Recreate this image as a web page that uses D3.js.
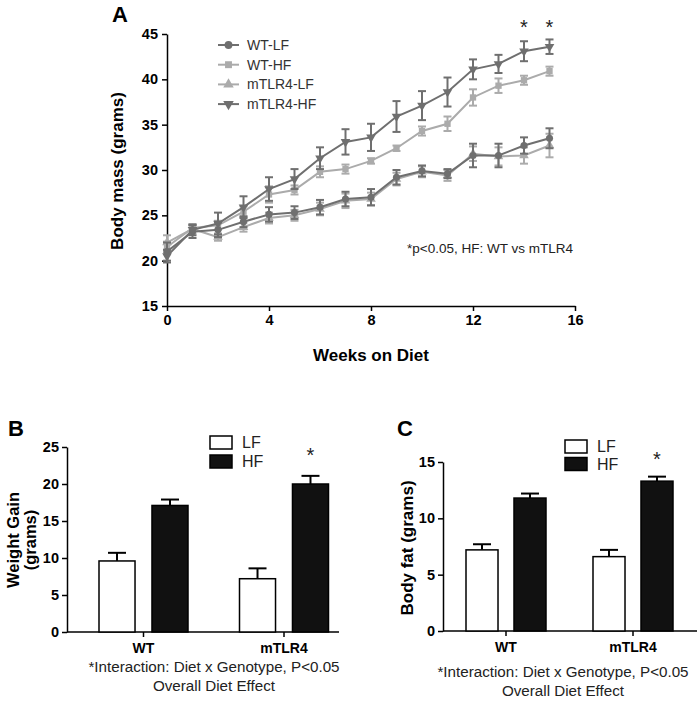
<!DOCTYPE html>
<html><head><meta charset="utf-8">
<script src="https://cdn.jsdelivr.net/npm/d3@7"></script>
<style>
body{margin:0;background:#fff;}
svg{display:block;font-family:"Liberation Sans",Arial,sans-serif;}
</style></head>
<body>
<svg id="chart" width="697" height="701"></svg>
<script>
// ---------- Panel A data ----------
const weeks = [0,1,2,3,4,5,6,7,8,9,10,11,12,13,14,15];
const wtLF   = [21.0,23.2,23.4,24.3,25.1,25.3,25.9,26.8,27.0,29.2,29.9,29.6,31.6,31.6,32.7,33.5];
const wtLFe  = [1.0,0.7,0.8,0.6,0.8,0.7,0.8,0.8,0.9,0.8,0.6,0.5,1.3,1.3,0.9,1.1];
const wtHF   = [21.5,23.6,23.9,25.4,27.3,27.8,29.8,30.1,31.0,32.4,34.3,35.1,38.0,39.3,39.9,40.9];
const wtHFe  = [0.6,0.3,0.5,0.6,0.9,0.5,0.6,0.5,0.3,0.3,0.5,0.8,0.9,0.8,0.5,0.5];
const tlrLF  = [22.0,23.5,22.6,23.7,24.7,25.0,25.7,26.6,26.8,29.0,29.8,29.4,31.8,31.5,31.6,32.7];
const tlrLFe = [0.8,0.5,0.4,0.5,0.6,0.6,0.7,0.8,0.7,0.7,0.6,0.6,0.8,1.0,0.9,1.3];
const tlrHF  = [20.5,23.4,24.1,25.9,27.9,29.0,31.3,33.1,33.6,35.9,37.1,38.6,41.1,41.7,43.1,43.6];
const tlrHFe = [0.7,0.6,1.2,1.2,1.3,1.1,1.2,1.4,1.5,1.7,1.6,1.6,1.1,1.0,1.1,0.8];
const seriesNames = ["WT-LF","WT-HF","mTLR4-LF","mTLR4-HF"];
const xTicksA = [0,4,8,12,16];
const yTicksA = [15,20,25,30,35,40,45];
const starWeeks = [14,15];

// ---------- Panel B/C data ----------
const genotypes = ["WT","mTLR4"];
const diets = ["LF","HF"];
const gainLF = [9.6,7.2], gainLFe = [1.1,1.4];
const gainHF = [17.1,20.0], gainHFe = [0.8,1.1];
const fatLF = [7.2,6.6], fatLFe = [0.5,0.6];
const fatHF = [11.8,13.3], fatHFe = [0.4,0.4];
const yTicksB = [0,5,10,15,20,25];
const yTicksC = [0,5,10,15];

const svg = d3.select("#chart");
const dark = "#6f6f6f", light = "#ababab";

// ================= Panel A =================
const xA = d3.scaleLinear().domain([0,16]).range([167,575]);
const yA = d3.scaleLinear().domain([15,45]).range([306,34]);

const gA = svg.append("g");
gA.append("g").attr("transform","translate(0,306)")
  .call(d3.axisBottom(xA).tickValues(xTicksA).tickSize(5).tickSizeOuter(0).tickPadding(4))
  .call(g=>{g.select(".domain").attr("stroke","#000").attr("stroke-width",1.5);
    g.selectAll(".tick line").attr("stroke","#000").attr("stroke-width",1.5);
    g.selectAll("text").attr("font-size",14.5).attr("font-weight","bold").attr("fill","#000").attr("font-family","Liberation Sans, Arial");});
gA.append("g").attr("transform","translate(167,0)")
  .call(d3.axisLeft(yA).tickValues(yTicksA).tickSize(5).tickSizeOuter(0).tickPadding(4))
  .call(g=>{g.select(".domain").attr("stroke","#000").attr("stroke-width",1.5);
    g.selectAll(".tick line").attr("stroke","#000").attr("stroke-width",1.5);
    g.selectAll("text").attr("font-size",14.5).attr("font-weight","bold").attr("fill","#000").attr("font-family","Liberation Sans, Arial");});

gA.append("text").attr("x",112).attr("y",22).attr("font-size",22).attr("font-weight","bold").text("A");
gA.append("text").attr("transform","translate(123,171) rotate(-90)").attr("text-anchor","middle")
  .attr("font-size",17).attr("font-weight","bold").text("Body mass (grams)");
gA.append("text").attr("x",371).attr("y",361).attr("text-anchor","middle")
  .attr("font-size",17).attr("font-weight","bold").text("Weeks on Diet");
gA.append("text").attr("x",490).attr("y",253).attr("text-anchor","middle")
  .attr("font-size",13.5).attr("fill","#222").text("*p<0.05, HF: WT vs mTLR4");

const series = [
  {name:seriesNames[0], v:wtLF, e:wtLFe, color:dark, sym:d3.symbolCircle, rot:0},
  {name:seriesNames[1], v:wtHF, e:wtHFe, color:light, sym:d3.symbolSquare, rot:0},
  {name:seriesNames[2], v:tlrLF, e:tlrLFe, color:light, sym:d3.symbolTriangle, rot:0},
  {name:seriesNames[3], v:tlrHF, e:tlrHFe, color:dark, sym:d3.symbolTriangle, rot:180}
];
const drawOrder = [1,2,0,3];
const line = d3.line().x((d,i)=>xA(weeks[i])).y(d=>yA(d));
drawOrder.forEach(si=>{
  const s = series[si];
  const g = gA.append("g");
  g.append("path").datum(s.v).attr("d",line).attr("fill","none").attr("stroke",s.color).attr("stroke-width",2);
  s.v.forEach((v,i)=>{
    const x = xA(weeks[i]), y1 = yA(v + s.e[i]), y0 = yA(v - s.e[i]);
    g.append("line").attr("x1",x).attr("x2",x).attr("y1",y1).attr("y2",y0).attr("stroke",s.color).attr("stroke-width",2);
    g.append("line").attr("x1",x-4).attr("x2",x+4).attr("y1",y1).attr("y2",y1).attr("stroke",s.color).attr("stroke-width",2);
    g.append("line").attr("x1",x-4).attr("x2",x+4).attr("y1",y0).attr("y2",y0).attr("stroke",s.color).attr("stroke-width",2);
    g.append("path").attr("d",d3.symbol().type(s.sym).size(40)())
      .attr("transform",`translate(${x},${yA(v)}) rotate(${s.rot})`).attr("fill",s.color);
  });
});
starWeeks.forEach(w=>{
  gA.append("text").attr("x",xA(w)).attr("y",34).attr("text-anchor","middle")
    .attr("font-size",20).attr("fill","#222").text("*");
});
// legend A
series.forEach((s,i)=>{
  const y = 45 + i*19.7;
  gA.append("line").attr("x1",218).attr("x2",239).attr("y1",y).attr("y2",y).attr("stroke",s.color).attr("stroke-width",2);
  gA.append("path").attr("d",d3.symbol().type(s.sym).size(48)())
    .attr("transform",`translate(228.5,${y}) rotate(${s.rot})`).attr("fill",s.color);
  gA.append("text").attr("x",247).attr("y",y+5).attr("font-size",14).attr("fill","#333").text(s.name);
});

// ================= Bar panels =================
function barPanel(opt){
  const g = svg.append("g");
  const y = d3.scaleLinear().domain(opt.domain).range(opt.yRange);
  const x = d3.scalePoint().domain(genotypes).range(opt.centers);
  const sub = d3.scaleBand().domain(diets).range([-opt.half,opt.half]).paddingInner(opt.pad);
  g.append("g").attr("transform",`translate(${opt.axisX},0)`)
    .call(d3.axisLeft(y).tickValues(opt.ticks).tickSize(5).tickSizeOuter(0).tickPadding(3))
    .call(a=>{a.select(".domain").attr("stroke","#000").attr("stroke-width",1.5);
      a.selectAll(".tick line").attr("stroke","#000").attr("stroke-width",1.5);
      a.selectAll("text").attr("font-size",14.5).attr("font-weight","bold").attr("fill","#000").attr("font-family","Liberation Sans, Arial");});
  const base = opt.yRange[0];
  g.append("line").attr("x1",opt.axisX).attr("x2",opt.axisEnd).attr("y1",base).attr("y2",base).attr("stroke","#000").attr("stroke-width",1.5);
  genotypes.forEach((gt,gi)=>{
    const cx = x(gt);
    g.append("line").attr("x1",cx).attr("x2",cx).attr("y1",base).attr("y2",base+5).attr("stroke","#000").attr("stroke-width",1.5);
    g.append("text").attr("x",cx).attr("y",base+21).attr("text-anchor","middle").attr("font-size",14).attr("font-weight","bold").text(gt);
    diets.forEach((dt,di)=>{
      const v = dt==="LF"?opt.lf[gi]:opt.hf[gi];
      const e = dt==="LF"?opt.lfe[gi]:opt.hfe[gi];
      const bx = cx + sub(dt), bw = sub.bandwidth();
      const ex = bx + bw/2;
      g.append("line").attr("x1",ex).attr("x2",ex).attr("y1",y(v)).attr("y2",y(v+e)).attr("stroke","#000").attr("stroke-width",2);
      g.append("line").attr("x1",ex-9).attr("x2",ex+9).attr("y1",y(v+e)).attr("y2",y(v+e)).attr("stroke","#000").attr("stroke-width",2);
      g.append("rect").attr("x",bx).attr("y",y(v)).attr("width",bw).attr("height",base-y(v))
        .attr("fill",dt==="LF"?"#fff":"#111").attr("stroke","#000").attr("stroke-width",1.5);
    });
  });
  const sx = x("mTLR4") + sub("HF") + sub.bandwidth()/2;
  g.append("text").attr("x",sx).attr("y",opt.starY).attr("text-anchor","middle").attr("font-size",20).attr("fill","#222").text("*");
  diets.forEach((dt,i)=>{
    const ly = opt.legY + i*opt.legStep;
    g.append("rect").attr("x",opt.legX).attr("y",ly).attr("width",22).attr("height",13)
      .attr("fill",dt==="LF"?"#fff":"#111").attr("stroke","#000").attr("stroke-width",1.5);
    g.append("text").attr("x",opt.legX+32).attr("y",ly+12).attr("font-size",16).attr("fill","#222").text(dt);
  });
  g.append("text").attr("x",opt.letterX).attr("y",436).attr("font-size",22).attr("font-weight","bold").text(opt.letter);
  const t = g.append("text").attr("transform",`translate(${opt.titleX},${opt.titleY}) rotate(-90)`)
    .attr("text-anchor","middle").attr("font-size",opt.titleSize).attr("font-weight","bold");
  opt.title.forEach((tl,i)=>t.append("tspan").attr("x",0).attr("dy",i===0?0:opt.titleSize*1.02).text(tl));
  opt.notes.forEach((n,i)=>{
    g.append("text").attr("x",opt.noteX).attr("y",opt.noteY+i*19).attr("text-anchor","middle")
      .attr("font-size",15.2).attr("fill","#222").text(n);
  });
}

barPanel({domain:[0,25], yRange:[632,447], centers:[143.5,284], half:44.5, pad:0.32,
  axisX:67, axisEnd:339, ticks:yTicksB, lf:gainLF, lfe:gainLFe, hf:gainHF, hfe:gainHFe,
  starY:462, legX:210, legY:436, legStep:19, letter:"B", letterX:8,
  title:["Weight Gain","(grams)"], titleX:19, titleY:540, titleSize:16.5,
  notes:["*Interaction: Diet x Genotype, P<0.05","Overall Diet Effect"], noteX:214, noteY:672});

barPanel({domain:[0,15], yRange:[631,462], centers:[506,633], half:40, pad:0.333,
  axisX:443, axisEnd:697, ticks:yTicksC, lf:fatLF, lfe:fatLFe, hf:fatHF, hfe:fatHFe,
  starY:466, legX:565, legY:440, legStep:17.5, letter:"C", letterX:397,
  title:["Body fat (grams)"], titleX:413, titleY:548, titleSize:17,
  notes:["*Interaction: Diet x Genotype, P<0.05","Overall Diet Effect"], noteX:563, noteY:677});
</script>
</body></html>
